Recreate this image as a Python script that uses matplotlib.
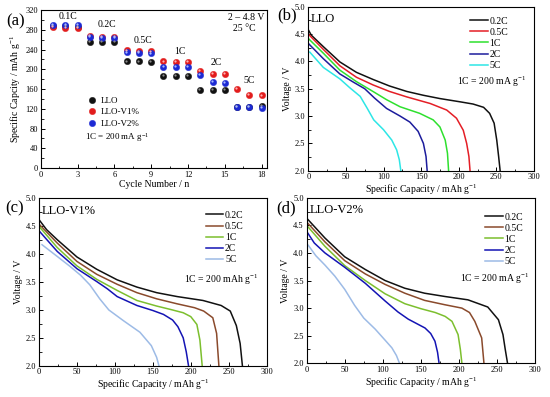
import numpy as np
import matplotlib
matplotlib.use("Agg")
import matplotlib.pyplot as plt
import matplotlib.transforms as mtransforms
from matplotlib.ticker import MultipleLocator, FormatStrFormatter

plt.rcParams['font.family'] = ['Liberation Serif', 'DejaVu Serif']
plt.rcParams['mathtext.fontset'] = 'custom'
plt.rcParams['mathtext.rm'] = 'Liberation Serif'
plt.rcParams['mathtext.default'] = 'regular'

# (a) rate capability
cycles = np.arange(1, 19)
cap_llo = [287, 287, 286, 256, 255, 255, 216, 216, 215, 187, 187, 187, 159, 158, 158, 124, 124, 125]
cap_v1 = [285, 284, 283, 268, 266, 265, 238, 236, 236, 216, 215, 215, 197, 191, 190, 160, 148, 147]
cap_v2 = [289, 289, 289, 265, 264, 263, 234, 233, 232, 205, 205, 205, 188, 175, 173, 124, 123, 122]
rate_labels = ['0.1C', '0.2C', '0.5C', '1C', '2C', '5C']
rate_label_pos = [(2.2, 306), (5.4, 290), (8.3, 259), (11.3, 235), (14.3, 213), (17.0, 178)]

# discharge curves, (capacity mAh/g, voltage V)
rates = ['0.2C', '0.5C', '1C', '2C', '5C']
llo_02c = [(0, 4.58), (4, 4.48), (20, 4.27), (42, 3.99), (64, 3.80), (86, 3.67), (108, 3.55), (131, 3.45),
           (153, 3.38), (175, 3.32), (202, 3.26), (219, 3.22), (233, 3.16), (241, 3.05), (247, 2.87),
           (250.5, 2.56), (253, 2.26), (255, 2.0)]
llo_05c = [(0, 4.50), (20, 4.22), (42, 3.92), (64, 3.71), (86, 3.57), (108, 3.45), (131, 3.35), (162, 3.23),
           (184, 3.11), (197, 2.96), (206, 2.74), (210.5, 2.50), (213.5, 2.26), (215, 2.0)]
llo_1c = [(0, 4.42), (20, 4.15), (42, 3.84), (64, 3.63), (86, 3.45), (104, 3.30), (122, 3.17), (148, 3.05),
          (166, 2.93), (175, 2.80), (182, 2.56), (185, 2.32), (186.5, 2.0)]
llo_2c = [(0, 4.33), (20, 4.05), (42, 3.77), (60, 3.62), (75, 3.50), (88, 3.33), (104, 3.14), (122, 3.00),
          (135, 2.89), (146, 2.72), (153, 2.50), (156.5, 2.26), (158, 2.0)]
llo_5c = [(2, 4.17), (20, 3.89), (42, 3.68), (55, 3.52), (69, 3.36), (78, 3.15), (87, 2.93), (100, 2.75),
          (111, 2.56), (117.5, 2.38), (121, 2.20), (123, 2.0)]

v1_02c = [(0, 4.62), (10, 4.44), (24, 4.26), (50, 3.95), (76, 3.73), (103, 3.54), (129, 3.41), (155, 3.31),
          (182, 3.24), (216, 3.17), (240, 3.08), (252, 2.98), (260, 2.72), (265, 2.40), (268, 2.0)]
v1_05c = [(0, 4.54), (24, 4.20), (50, 3.87), (76, 3.64), (103, 3.46), (129, 3.31), (155, 3.20), (182, 3.11),
          (205, 3.04), (217, 2.98), (229, 2.86), (234, 2.58), (237, 2.0)]
v1_1c = [(0, 4.50), (24, 4.12), (50, 3.79), (76, 3.55), (103, 3.35), (129, 3.17), (155, 3.07), (173, 3.01),
         (190, 2.95), (200, 2.88), (208, 2.74), (212, 2.46), (215, 2.0)]
v1_2c = [(0, 4.42), (24, 4.05), (50, 3.74), (76, 3.51), (90, 3.38), (103, 3.24), (129, 3.08), (150, 2.99),
         (164, 2.92), (176, 2.82), (183, 2.70), (190, 2.50), (194, 2.25), (197, 2.0)]
v1_5c = [(4, 4.17), (24, 3.96), (41, 3.78), (55, 3.62), (67, 3.45), (80, 3.20), (92, 3.00), (111, 2.81),
         (133, 2.60), (148, 2.36), (155, 2.15), (158, 2.0)]

v2_02c = [(0, 4.63), (24, 4.27), (50, 3.93), (77, 3.70), (103, 3.50), (129, 3.36), (155, 3.27), (182, 3.21),
          (212, 3.15), (238, 3.02), (252, 2.79), (258, 2.52), (261, 2.25), (264, 2.0)]
v2_05c = [(0, 4.56), (24, 4.20), (50, 3.86), (77, 3.62), (103, 3.43), (129, 3.27), (155, 3.14), (182, 3.06),
          (204, 3.00), (214, 2.92), (221, 2.76), (230, 2.46), (233, 2.0)]
v2_1c = [(0, 4.50), (24, 4.12), (50, 3.77), (77, 3.50), (103, 3.26), (129, 3.08), (150, 2.99), (169, 2.92),
         (182, 2.85), (191, 2.76), (199, 2.52), (202, 2.25), (204, 2.0)]
v2_2c = [(0, 4.39), (10, 4.18), (24, 4.00), (50, 3.74), (77, 3.45), (103, 3.13), (120, 2.93), (133.5, 2.80),
         (155.5, 2.64), (163, 2.54), (168.6, 2.40), (172, 2.2), (174, 2.0)]
v2_5c = [(2, 4.14), (12, 3.95), (24, 3.78), (37, 3.58), (50, 3.34), (63, 3.05), (75, 2.82), (90, 2.62),
         (103, 2.42), (112, 2.28), (118, 2.14), (122, 2.0)]

colors_b = ['#111111', '#e41e26', '#2ee02e', '#1c1c9c', '#2de6e6']
colors_cd = ['#111111', '#8a4a2c', '#7cbf2e', '#1414b4', '#9dbbe6']

fig = plt.figure(figsize=(5.5, 3.97), dpi=100)


def style_axes(ax, fs=6):
    ax.tick_params(which='both', direction='in', top=False, right=False, labelsize=fs, pad=2)
    ax.tick_params(which='major', length=3, width=0.7)
    ax.tick_params(which='minor', length=1.8, width=0.6)
    for s in ax.spines.values():
        s.set_linewidth(0.8)


# ---- (a)
ax = fig.add_axes([0.0745, 0.5768, 0.411, 0.398])
shift = mtransforms.ScaledTranslation(-0.6 / 72, 0.6 / 72, fig.dpi_scale_trans)
series = [(cap_llo, '#111111', '#8a8a8a', 'LLO'),
          (cap_v1, '#e21c1c', '#ffb0b0', 'LLO-V1%'),
          (cap_v2, '#1c2ad4', '#a8b8ff', 'LLO-V2%')]
for vals, c, hl, lab in series:
    ax.plot(cycles, vals, 'o', color=c, ms=4.6, mec=c, mew=0.3, label=lab, zorder=3)
    ax.plot(cycles, vals, 'o', color=hl, ms=1.6, mew=0, zorder=4,
            transform=ax.transData + shift)
ax.set_xlim(0, 18.45)
ax.set_ylim(0, 320)
ax.xaxis.set_major_locator(MultipleLocator(3))
ax.xaxis.set_minor_locator(MultipleLocator(1.5))
ax.yaxis.set_major_locator(MultipleLocator(40))
ax.yaxis.set_minor_locator(MultipleLocator(20))
style_axes(ax)
ax.set_xlabel('Cycle Number / n', fontsize=7, labelpad=1)
ax.set_ylabel('Specific Capcity / mAh g$^{-1}$', fontsize=7, labelpad=2)
for t, (x, y) in zip(rate_labels, rate_label_pos):
    ax.text(x, y, t, fontsize=7, ha='center', va='center')
ax.text(18.2, 304, '2 – 4.8 V', fontsize=7, ha='right', va='center')
ax.text(16.6, 282, '25 °C', fontsize=7, ha='center', va='center')
ax.legend(loc='upper left', bbox_to_anchor=(0.19, 0.48), frameon=False, fontsize=6.5,
          handlelength=0.8, handletextpad=0.6, labelspacing=0.35, borderpad=0.0)
ax.text(3.6, 61, '1C = 200 mA g$^{-1}$', fontsize=6.5, ha='left', va='center')
fig.text(0.012, 0.945, '(a)', fontsize=12, ha='left', va='center')


def curve_panel(rect, curves, colors, name, note, leg_anchor, note_xy):
    ax = fig.add_axes(rect)
    for pts, c, lab in zip(curves, colors, rates):
        arr = np.array(pts)
        ax.plot(arr[:, 0], arr[:, 1], '-', color=c, lw=1.1, label=lab)
    ax.set_xlim(0, 300)
    ax.set_ylim(2.0, 5.0)
    ax.xaxis.set_major_locator(MultipleLocator(50))
    ax.xaxis.set_minor_locator(MultipleLocator(25))
    ax.yaxis.set_major_locator(MultipleLocator(0.5))
    ax.yaxis.set_minor_locator(MultipleLocator(0.25))
    ax.yaxis.set_major_formatter(FormatStrFormatter('%.1f'))
    style_axes(ax)
    ax.set_xlabel('Specific Capacity / mAh g$^{-1}$', fontsize=7, labelpad=1)
    ax.set_ylabel('Voltage / V', fontsize=7, labelpad=2)
    ax.text(0.012, 0.96, name, transform=ax.transAxes, fontsize=9, ha='left', va='top')
    ax.legend(loc='upper left', bbox_to_anchor=leg_anchor, frameon=False, fontsize=7,
              handlelength=1.8, handletextpad=0.2, labelspacing=0.22, borderpad=0.0)
    ax.text(note_xy[0], note_xy[1], note, transform=ax.transAxes, fontsize=7,
            ha='center', va='center')
    return ax


curve_panel([0.5605, 0.570, 0.4104, 0.413], [llo_02c, llo_05c, llo_1c, llo_2c, llo_5c], colors_b,
            'LLO', '1C = 200 mA g$^{-1}$', (0.695, 0.97), (0.815, 0.54))
curve_panel([0.0709, 0.0788, 0.414, 0.4214], [v1_02c, v1_05c, v1_1c, v1_2c, v1_5c], colors_cd,
            'LLO-V1%', '1C = 200 mAh g$^{-1}$', (0.71, 0.955), (0.80, 0.515))
curve_panel([0.5576, 0.0849, 0.415, 0.417], [v2_02c, v2_05c, v2_1c, v2_2c, v2_5c], colors_cd,
            'LLO-V2%', '1C = 200 mA g$^{-1}$', (0.76, 0.94), (0.824, 0.51))

fig.text(0.504, 0.96, '(b)', fontsize=12, ha='left', va='center')
fig.text(0.009, 0.476, '(c)', fontsize=12, ha='left', va='center')
fig.text(0.502, 0.476, '(d)', fontsize=12, ha='left', va='center')

fig.savefig('out.png', dpi=100)
